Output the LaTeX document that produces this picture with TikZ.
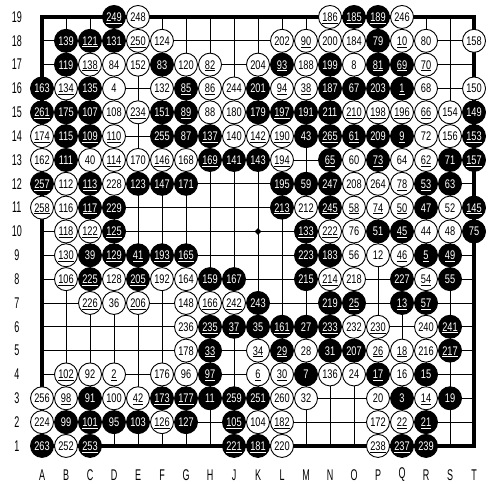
\documentclass[tikz,border=0pt]{standalone}
\usepackage{fontspec}
\usetikzlibrary{shapes.geometric}
\newfontfamily\numfont[FakeStretch=0.74]{Liberation Sans}
\newfontfamily\coordfont[FakeStretch=0.58]{Liberation Sans}
\newcommand\unum[1]{\underline{#1}}

\begin{document}
\begin{tikzpicture}[x=24pt, y=23.83pt,
  stone/.style={circle, draw=black, line width=0.9pt, minimum size=23pt, inner sep=0pt,
    font=\numfont\fontsize{12.5}{12.5}\selectfont, text height=8.9pt, text depth=0pt},
  bstone/.style={stone, fill=black, text=white},
  wstone/.style={stone, fill=white, text=black},
  coord/.style={font=\coordfont\fontsize{15.5}{15.5}\selectfont, inner sep=0pt}]
  \useasboundingbox (-0.75,-0.597) rectangle (20.208,19.713);
  % board
  \foreach \i in {1,...,19} {
    \draw[line width=0.9pt] (\i,1) -- (\i,19);
    \draw[line width=0.9pt] (1,\i) -- (19,\i);
    \node[coord] (row\i) at (-0.05,\i) {\i};
  }
  \draw[line width=3.2pt] (1,1) rectangle (19,19);
  \node[diamond, fill=black, inner sep=0pt, minimum size=7pt] (hoshi) at (10,10) {};
  \foreach \c/\l in {1/A,2/B,3/C,4/D,5/E,6/F,7/G,8/H,9/J,10/K,11/L,12/M,13/N,14/O,15/P,16/Q,17/R,18/S,19/T}
    \node[coord] (col\l) at (\c,-0.22) {\l};
  % black stones
  \foreach \c/\r/\t in {
    4/19/\unum{249}, 14/19/\unum{185}, 15/19/\unum{189},
    2/18/139, 3/18/\unum{121}, 4/18/131, 15/18/79,
    2/17/119, 6/17/83, 11/17/\unum{93}, 13/17/199, 15/17/\unum{81}, 16/17/\unum{69},
    1/16/163, 3/16/135, 7/16/\unum{85}, 10/16/201, 13/16/187, 14/16/67, 15/16/203, 16/16/\unum{1},
    1/15/\unum{261}, 2/15/175, 3/15/107, 6/15/151, 7/15/\unum{89}, 10/15/179, 11/15/\unum{197}, 12/15/191, 13/15/211, 19/15/149,
    2/14/115, 3/14/\unum{109}, 6/14/255, 7/14/87, 8/14/\unum{137}, 12/14/43, 13/14/\unum{265}, 14/14/\unum{61}, 15/14/209, 16/14/\unum{9}, 19/14/\unum{153},
    2/13/111, 8/13/\unum{169}, 9/13/141, 10/13/143, 13/13/\unum{65}, 15/13/\unum{73}, 18/13/71, 19/13/\unum{157},
    1/12/\unum{257}, 3/12/\unum{113}, 5/12/123, 6/12/147, 7/12/171, 11/12/195, 12/12/59, 13/12/247, 17/12/\unum{53}, 18/12/63,
    3/11/\unum{117}, 4/11/229, 11/11/\unum{213}, 13/11/\unum{245}, 17/11/47, 19/11/\unum{145},
    4/10/\unum{125}, 12/10/\unum{133}, 15/10/51, 16/10/\unum{45}, 19/10/75,
    3/9/39, 4/9/\unum{129}, 5/9/\unum{41}, 6/9/\unum{193}, 7/9/\unum{165}, 12/9/223, 13/9/183, 17/9/\unum{5}, 18/9/\unum{49},
    3/8/\unum{225}, 5/8/\unum{205}, 8/8/159, 9/8/167, 12/8/215, 16/8/227, 18/8/55,
    10/7/243, 13/7/219, 14/7/\unum{25}, 16/7/\unum{13}, 17/7/\unum{57},
    8/6/\unum{235}, 9/6/\unum{37}, 10/6/35, 11/6/\unum{161}, 12/6/27, 13/6/\unum{233}, 18/6/\unum{241},
    8/5/\unum{33}, 11/5/\unum{29}, 13/5/31, 14/5/207, 18/5/\unum{217},
    8/4/\unum{97}, 12/4/7, 15/4/\unum{17}, 17/4/15,
    3/3/91, 6/3/\unum{173}, 7/3/\unum{177}, 8/3/11, 9/3/259, 10/3/251, 16/3/3, 18/3/19,
    2/2/99, 3/2/\unum{101}, 4/2/95, 5/2/103, 7/2/127, 9/2/\unum{105}, 17/2/\unum{21},
    1/1/263, 3/1/\unum{253}, 9/1/\unum{221}, 10/1/\unum{181}, 16/1/\unum{237}, 17/1/239}
    \node[bstone] (s-\c-\r) at (\c,\r) {\t};
  % white stones
  \foreach \c/\r/\t in {
    5/19/248, 13/19/\unum{186}, 16/19/246,
    5/18/\unum{250}, 6/18/124, 11/18/202, 12/18/\unum{90}, 13/18/200, 14/18/184, 16/18/\unum{10}, 17/18/80, 19/18/158,
    3/17/\unum{138}, 4/17/84, 5/17/152, 7/17/120, 8/17/\unum{82}, 10/17/204, 12/17/188, 14/17/8, 17/17/\unum{70},
    2/16/\unum{134}, 4/16/4, 6/16/132, 8/16/\unum{86}, 9/16/244, 11/16/\unum{94}, 12/16/\unum{38}, 17/16/68, 19/16/150,
    4/15/108, 5/15/\unum{234}, 8/15/88, 9/15/180, 14/15/\unum{210}, 15/15/\unum{198}, 16/15/\unum{196}, 17/15/\unum{66}, 18/15/154,
    1/14/\unum{174}, 4/14/\unum{110}, 9/14/140, 10/14/\unum{142}, 11/14/\unum{190}, 17/14/72, 18/14/156,
    1/13/162, 3/13/40, 4/13/\unum{114}, 5/13/170, 6/13/\unum{146}, 7/13/168, 11/13/\unum{194}, 14/13/60, 16/13/64, 17/13/\unum{62},
    2/12/112, 4/12/228, 14/12/208, 15/12/264, 16/12/\unum{78},
    1/11/\unum{258}, 2/11/116, 12/11/212, 14/11/\unum{58}, 15/11/\unum{74}, 16/11/\unum{50}, 18/11/52,
    2/10/\unum{118}, 3/10/\unum{122}, 13/10/\unum{222}, 14/10/76, 17/10/44, 18/10/48,
    2/9/\unum{130}, 14/9/56, 15/9/12, 16/9/\unum{46},
    2/8/\unum{106}, 4/8/128, 6/8/192, 7/8/164, 13/8/\unum{214}, 14/8/218, 17/8/\unum{54},
    3/7/\unum{226}, 4/7/36, 5/7/\unum{206}, 7/7/148, 8/7/\unum{166}, 9/7/\unum{242},
    7/6/236, 14/6/232, 15/6/\unum{230}, 17/6/240,
    7/5/178, 10/5/\unum{34}, 12/5/28, 15/5/\unum{26}, 16/5/\unum{18}, 17/5/216,
    2/4/\unum{102}, 3/4/92, 4/4/\unum{2}, 6/4/176, 7/4/96, 10/4/\unum{6}, 11/4/\unum{30}, 13/4/136, 14/4/24, 16/4/16,
    1/3/256, 2/3/\unum{98}, 4/3/100, 5/3/\unum{42}, 11/3/260, 12/3/32, 15/3/20, 17/3/\unum{14},
    1/2/224, 6/2/\unum{126}, 10/2/104, 11/2/\unum{182}, 15/2/172, 16/2/\unum{22},
    2/1/252, 11/1/220, 15/1/\unum{238}}
    \node[wstone] (s-\c-\r) at (\c,\r) {\t};
\end{tikzpicture}
\end{document}
